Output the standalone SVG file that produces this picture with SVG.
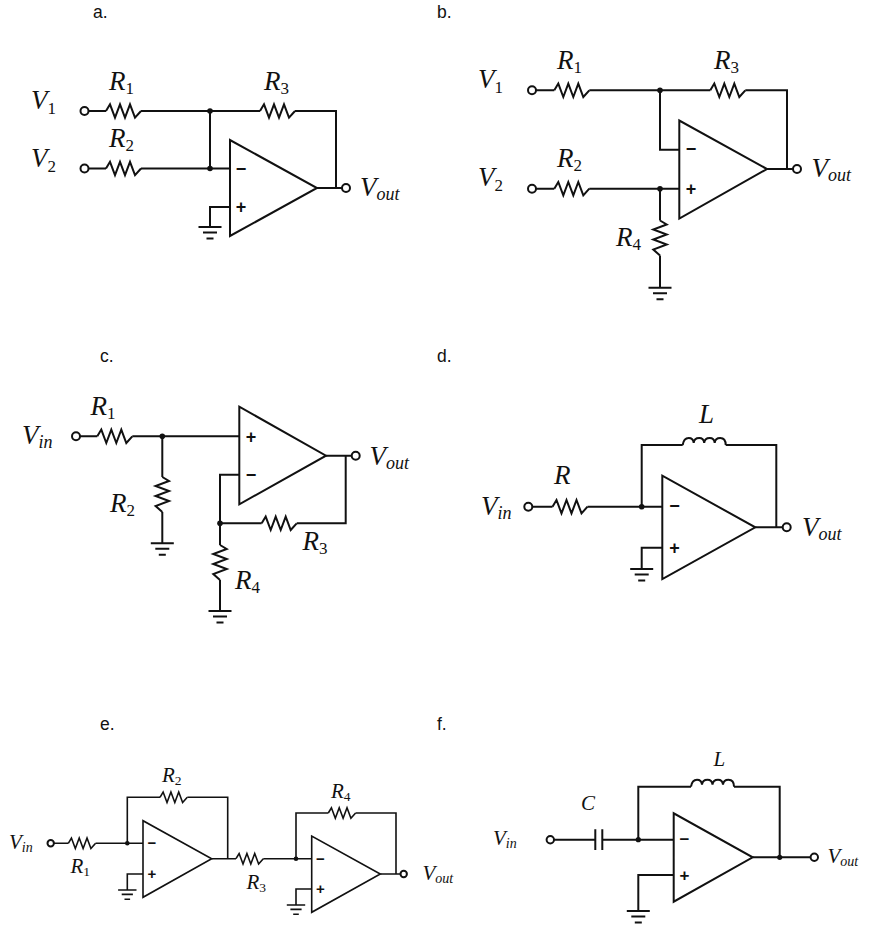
<svg xmlns="http://www.w3.org/2000/svg" width="882" height="942" viewBox="0 0 882 942">
<style>
.w{fill:none;stroke:#111;stroke-width:2;stroke-linejoin:miter}
.s{stroke-width:1.6}
.r{stroke-width:2.050}
.t{fill:#fff;stroke:#111;stroke-width:2}
.d{fill:#111;stroke:none}
.m{fill:#111;stroke:none;font-family:"Liberation Sans",Arial,sans-serif;font-weight:bold;text-anchor:middle}
.h{fill:#111;font-family:"Liberation Sans",Arial,sans-serif;font-size:17.5px}
.l{fill:#111;font-family:"Liberation Serif","Times New Roman",serif;font-style:italic;font-size:27px}
.q{font-size:21px}
.n{font-style:normal;font-size:17px}
.o{font-style:italic;font-size:18px}
.q .n{font-size:13.500px}
.q .o{font-size:14px}
</style>
<defs>
<path id="res" d="M0 0L4 -6.700L9 6.700L14 -6.700L19 6.700L24 -6.700L29 6.700L35 0"/>
<path id="ind" d="M0 0Q1 -7 6 -7Q10.500 -7 11 -2Q11.500 -7 16.500 -7Q21 -7 21.500 -2Q22 -7 27 -7Q31.500 -7 32 -2Q32.500 -7 37.500 -7Q43 -7 43 0"/>
<path id="gnd" d="M-11.500 0H11.500M-7 5.500H7M-3.500 11.500H3.500"/>
</defs>
<g id="captions">
<text class="h" x="93" y="18">a.</text>
<text class="h" x="437" y="18">b.</text>
<text class="h" x="100" y="362">c.</text>
<text class="h" x="437" y="362">d.</text>
<text class="h" x="100" y="730">e.</text>
<text class="h" x="437" y="730">f.</text>
</g>
<g id="connectors">
<g id="conn-a" class="w">
<path d="M88.500 111H106M141 111H260M295 111H336V188M210 111V168.500M88.500 168.500H106M141 168.500H230M317 188H342M230 207H210V227"/>
</g>
<g id="conn-b" class="w">
<path d="M536 90.300H554.300M589.300 90.300H710.300M745.300 90.300H787V169M660 90.300V149.700H679.300M767 169H793M536 188.700H554.300M589.300 188.700H679.300M660 188.700V220.500M660 255.500V287.700"/>
</g>
<g id="conn-c" class="w">
<path d="M80 436.300H97.300M132.300 436.300H239.300M162.300 436.300V477M162.300 512V543.300M326 455.700H351.700M345.700 455.700V523.300H296.700M261.700 523.300H220M239.300 474.700H220V545M220 580V611"/>
</g>
<g id="conn-d" class="w">
<path d="M532.300 506.700H552.500M587.500 506.700H662.300M641.700 506.700V445H682.700M725.700 445H776.300V527.300M755.300 527.300H782.700M662.300 547.700H641.700V569"/>
</g>
<g id="conn-e" class="w s">
<path d="M53.700 843.300H68.300M95.600 843.300H143M127.300 843.300V797.300H160M187.300 797.300H227.700V858.700M211.700 858.700H236M263.300 858.700H311.700M296 858.700V813H328.300M355.600 813H396V874M380.300 874H400.700M143 874H127.300V890M311.700 889H296V905"/>
</g>
<g id="conn-f" class="w">
<path d="M554 839.700H595.300M602.300 839.700H673.700M638.300 839.700V786.700H691M734 786.700H779.700V857.300M752.700 857.300H810.300M673.700 875H638.300V911"/>
</g>
</g>

<g id="a-opamp"><path class="w" d="M230 140V236L317 188Z"/><text class="m" font-size="18" x="241" y="174.500">−</text><text class="m" font-size="18" x="241" y="213">+</text></g>
<g id="a-R1"><use class="w" href="#res" x="106" y="111"/><text class="l" x="109" y="90">R<tspan class="n" dy="4">1</tspan></text></g>
<g id="a-R2"><use class="w" href="#res" x="106" y="168.500"/><text class="l" x="109" y="147">R<tspan class="n" dy="4">2</tspan></text></g>
<g id="a-R3"><use class="w" href="#res" x="260" y="111"/><text class="l" x="264" y="90">R<tspan class="n" dy="4">3</tspan></text></g>
<g id="a-gnd"><use class="w" href="#gnd" x="210" y="227"/></g>
<g id="a-J1"><circle class="d" cx="210" cy="111" r="2.800"/></g>
<g id="a-J2"><circle class="d" cx="210" cy="168.500" r="2.800"/></g>
<g id="a-V1"><circle class="t" cx="84.500" cy="111" r="4"/><text class="l" x="31" y="109">V<tspan class="n" dy="5">1</tspan></text></g>
<g id="a-V2"><circle class="t" cx="84.500" cy="168.500" r="4"/><text class="l" x="31" y="167">V<tspan class="n" dy="5">2</tspan></text></g>
<g id="a-Vout"><circle class="t" cx="346" cy="188" r="4"/><text class="l" x="360" y="196">V<tspan class="o" dy="4">out</tspan></text></g>

<g id="b-opamp"><path class="w" d="M679.300 120.500V218.500L767 169Z"/><text class="m" font-size="18" x="691" y="155.200">−</text><text class="m" font-size="18" x="691" y="195">+</text></g>
<g id="b-R1"><use class="w" href="#res" x="554.300" y="90.300"/><text class="l" x="557" y="69">R<tspan class="n" dy="4">1</tspan></text></g>
<g id="b-R2"><use class="w" href="#res" x="554.300" y="188.700"/><text class="l" x="557" y="167">R<tspan class="n" dy="4">2</tspan></text></g>
<g id="b-R3"><use class="w" href="#res" x="710.300" y="90.300"/><text class="l" x="714" y="69">R<tspan class="n" dy="4">3</tspan></text></g>
<g id="b-R4"><use class="w" href="#res" transform="translate(660 220.500) rotate(90)"/><text class="l" x="616" y="245.700">R<tspan class="n" dy="4">4</tspan></text></g>
<g id="b-gnd"><use class="w" href="#gnd" x="660" y="287.700"/></g>
<g id="b-J1"><circle class="d" cx="660" cy="90.300" r="2.800"/></g>
<g id="b-J2"><circle class="d" cx="660" cy="188.700" r="2.800"/></g>
<g id="b-V1"><circle class="t" cx="532" cy="90.300" r="4"/><text class="l" x="478" y="88">V<tspan class="n" dy="5">1</tspan></text></g>
<g id="b-V2"><circle class="t" cx="532" cy="188.700" r="4"/><text class="l" x="478" y="186">V<tspan class="n" dy="5">2</tspan></text></g>
<g id="b-Vout"><circle class="t" cx="797" cy="169" r="4"/><text class="l" x="811.500" y="176.700">V<tspan class="o" dy="4">out</tspan></text></g>

<g id="c-opamp"><path class="w" d="M239.300 406.700V504.300L326 455.700Z"/><text class="m" font-size="18" x="251" y="442.500">+</text><text class="m" font-size="18" x="251" y="480.500">−</text></g>
<g id="c-R1"><use class="w" href="#res" x="97.300" y="436.300"/><text class="l" x="90.500" y="415.300">R<tspan class="n" dy="4">1</tspan></text></g>
<g id="c-R2"><use class="w" href="#res" transform="translate(162.300 477) rotate(90)"/><text class="l" x="110" y="512">R<tspan class="n" dy="4">2</tspan></text></g>
<g id="c-R3"><use class="w" href="#res" x="261.700" y="523.300"/><text class="l" x="302.500" y="550">R<tspan class="n" dy="4">3</tspan></text></g>
<g id="c-R4"><use class="w" href="#res" transform="translate(220 545) rotate(90)"/><text class="l" x="235" y="588.700">R<tspan class="n" dy="4">4</tspan></text></g>
<g id="c-gnd1"><use class="w" href="#gnd" x="162.300" y="543.300"/></g>
<g id="c-gnd2"><use class="w" href="#gnd" x="220" y="611"/></g>
<g id="c-J1"><circle class="d" cx="162.300" cy="436.300" r="2.800"/></g>
<g id="c-J2"><circle class="d" cx="220" cy="523.300" r="2.800"/></g>
<g id="c-Vin"><circle class="t" cx="76" cy="436.300" r="4"/><text class="l" x="22" y="444.300">V<tspan class="o" dy="4">in</tspan></text></g>
<g id="c-Vout"><circle class="t" cx="355.700" cy="455.700" r="4"/><text class="l" x="369.500" y="465">V<tspan class="o" dy="4">out</tspan></text></g>

<g id="d-opamp"><path class="w" d="M662.300 475.700V579L755.300 527.300Z"/><text class="m" font-size="18" x="674.500" y="512.200">−</text><text class="m" font-size="18" x="674.500" y="554">+</text></g>
<g id="d-R"><use class="w" href="#res" x="552.500" y="506.700"/><text class="l" x="554" y="484">R</text></g>
<g id="d-L"><use class="w" href="#ind" x="682.700" y="445"/><text class="l" x="699" y="423.300">L</text></g>
<g id="d-gnd"><use class="w" href="#gnd" x="641.700" y="569"/></g>
<g id="d-J1"><circle class="d" cx="641.700" cy="506.700" r="2.800"/></g>
<g id="d-Vin"><circle class="t" cx="528.300" cy="506.700" r="4"/><text class="l" x="481" y="515">V<tspan class="o" dy="4">in</tspan></text></g>
<g id="d-Vout"><circle class="t" cx="786.700" cy="527.300" r="4"/><text class="l" x="802" y="535.700">V<tspan class="o" dy="4">out</tspan></text></g>

<g id="e-opamp1"><path class="w s" d="M143 820.700V897.300L211.700 858.700Z"/><text class="m" font-size="15" x="152" y="848.300">−</text><text class="m" font-size="15" x="152" y="879">+</text></g>
<g id="e-opamp2"><path class="w s" d="M311.700 836V912.300L380.300 874Z"/><text class="m" font-size="15" x="320.500" y="863.700">−</text><text class="m" font-size="15" x="320.500" y="894">+</text></g>
<g id="e-R1"><use class="w r" href="#res" transform="translate(68.300 843.300) scale(.78)"/><text class="l q" x="70.500" y="873.300">R<tspan class="n" dy="3">1</tspan></text></g>
<g id="e-R2"><use class="w r" href="#res" transform="translate(160 797.300) scale(.78)"/><text class="l q" x="162" y="781.700">R<tspan class="n" dy="3">2</tspan></text></g>
<g id="e-R3"><use class="w r" href="#res" transform="translate(236 858.700) scale(.78)"/><text class="l q" x="246.500" y="889">R<tspan class="n" dy="3">3</tspan></text></g>
<g id="e-R4"><use class="w r" href="#res" transform="translate(328.300 813) scale(.78)"/><text class="l q" x="331" y="797.700">R<tspan class="n" dy="3">4</tspan></text></g>
<g id="e-gnd1"><use class="w r" href="#gnd" transform="translate(127.300 890) scale(.8)"/></g>
<g id="e-gnd2"><use class="w r" href="#gnd" transform="translate(296 905) scale(.8)"/></g>
<g id="e-J1"><circle class="d" cx="127.300" cy="843.300" r="2.300"/></g>
<g id="e-J2"><circle class="d" cx="296" cy="858.700" r="2.300"/></g>
<g id="e-Vin"><circle class="t s" cx="50.700" cy="843.300" r="3.200"/><text class="l q" x="9" y="849">V<tspan class="o" dy="3">in</tspan></text></g>
<g id="e-Vout"><circle class="t s" cx="403.700" cy="874" r="3.200"/><text class="l q" x="422.500" y="880">V<tspan class="o" dy="3">out</tspan></text></g>

<g id="f-opamp"><path class="w" d="M673.700 813.300V901.700L752.700 857.300Z"/><text class="m" font-size="17" x="684.500" y="845.200">−</text><text class="m" font-size="17" x="684.500" y="881">+</text></g>
<g id="f-C"><path class="w" d="M595.300 829.300V850M602.300 829.300V850"/><text class="l q" x="581" y="810">C</text></g>
<g id="f-L"><use class="w" href="#ind" transform="translate(691 786.700)"/><text class="l q" x="713.500" y="766">L</text></g>
<g id="f-gnd"><use class="w" href="#gnd" x="638.300" y="911"/></g>
<g id="f-J1"><circle class="d" cx="638.300" cy="839.700" r="2.600"/></g>
<g id="f-J2"><circle class="d" cx="779.700" cy="857.300" r="2.600"/></g>
<g id="f-Vin"><circle class="t" cx="550.300" cy="839.700" r="3.700"/><text class="l q" x="493" y="845">V<tspan class="o" dy="3">in</tspan></text></g>
<g id="f-Vout"><circle class="t" cx="814.300" cy="857.300" r="3.700"/><text class="l q" x="827.500" y="863.300">V<tspan class="o" dy="3">out</tspan></text></g>
</svg>
